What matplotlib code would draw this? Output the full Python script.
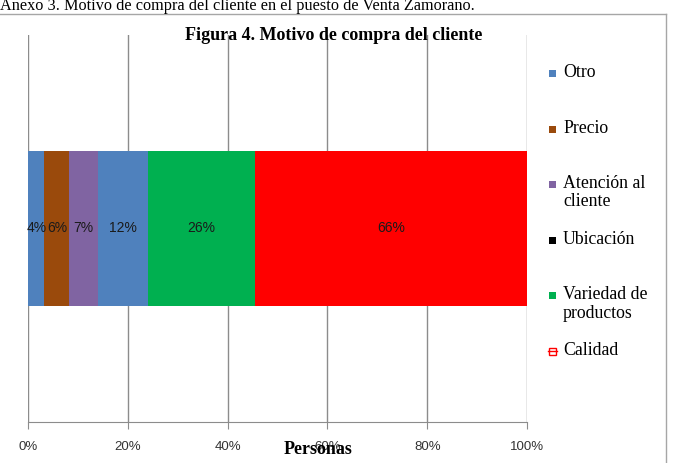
import numpy as np
import matplotlib
matplotlib.use('Agg')
import matplotlib.pyplot as plt
from matplotlib.patches import Rectangle
from matplotlib.lines import Line2D

categorias = ['Otro', 'Precio', 'Atención al\ncliente', 'Ubicación',
              'Variedad de\nproductos', 'Calidad']
valores = [4, 6, 7, 12, 26, 66]
colores_barra = ['#4F81BD', '#9A4A0C', '#8064A2', '#4F81BD', '#00B050', '#FF0000']
colores_leyenda = ['#4F81BD', '#9A4A0C', '#8064A2', '#000000', '#00B050', '#FF0000']
ticks = [0, 20, 40, 60, 80, 100]
tick_labels = ['0%', '20%', '40%', '60%', '80%', '100%']

W, H = 673, 463
fig = plt.figure(figsize=(W / 100, H / 100), dpi=100)
ax = fig.add_axes([28 / W, (H - 422) / H, (527 - 28) / W, (422 - 35) / H])

pct = np.array(valores) / np.sum(valores) * 100
left = 0
for v, p, c in zip(valores, pct, colores_barra):
    ax.barh(0, p, left=left, height=0.4, color=c, edgecolor='none', zorder=3)
    ax.text(left + p / 2, 0, f'{v}%', ha='center', va='center',
            fontsize=10, family='Liberation Sans', color='#1a1a1a', zorder=4)
    left += p

ax.set_xlim(0, 100)
ax.set_ylim(-0.5, 0.5)
ax.set_xticks(ticks)
ax.set_xticklabels(tick_labels, family='Liberation Sans', fontsize=9.5, color='#333333')
ax.set_yticks([])
ax.grid(axis='x', color='#8c8c8c', linewidth=1, zorder=0)
for s in ['top', 'right', 'left']:
    ax.spines[s].set_visible(False)
ax.spines['bottom'].set_color('#8c8c8c')
ax.tick_params(axis='x', length=5, color='#8c8c8c', pad=9)

# titulos
fig.text(334 / W, 1 - 35 / H, 'Figura 4. Motivo de compra del cliente', ha='center', va='center',
         family='Liberation Serif', fontweight='bold', fontsize=13)
fig.text(318 / W, 1 - 449 / H, 'Personas', ha='center', va='center',
         family='Liberation Serif', fontweight='bold', fontsize=13)
fig.text(0, 1 - 6 / H, 'Anexo 3. Motivo de compra del cliente en el puesto de Venta Zamorano.',
         ha='left', va='center', family='Liberation Serif', fontsize=11.7)

# marco
fig.add_artist(Line2D([0, 666 / W], [1 - 14 / H, 1 - 14 / H], transform=fig.transFigure,
                      color='#a6a6a6', linewidth=1))
fig.add_artist(Line2D([666 / W, 666 / W], [1 - 14 / H, 0], transform=fig.transFigure,
                      color='#a6a6a6', linewidth=1))

# leyenda
for i, (nombre, c) in enumerate(zip(categorias, colores_leyenda)):
    y = 73 + 55.6 * i
    if nombre == 'Calidad':
        fig.add_artist(Rectangle(((549) / W, 1 - (y + 4) / H), 7 / W, 7 / H,
                                 transform=fig.transFigure, facecolor='white',
                                 edgecolor=c, linewidth=1))
        fig.add_artist(Line2D([548 / W, 557 / W], [1 - (y - 0.5) / H, 1 - (y - 0.5) / H],
                              transform=fig.transFigure, color=c, linewidth=1))
    else:
        fig.add_artist(Rectangle((549 / W, 1 - (y + 4) / H), 7 / W, 7 / H,
                                 transform=fig.transFigure, facecolor=c, edgecolor='none'))
    fig.text(563 / W, 1 - (y - 9) / H, nombre, ha='left', va='top',
             family='Liberation Serif', fontsize=12.8, linespacing=1.1)

fig.savefig('out.png', dpi=100)
